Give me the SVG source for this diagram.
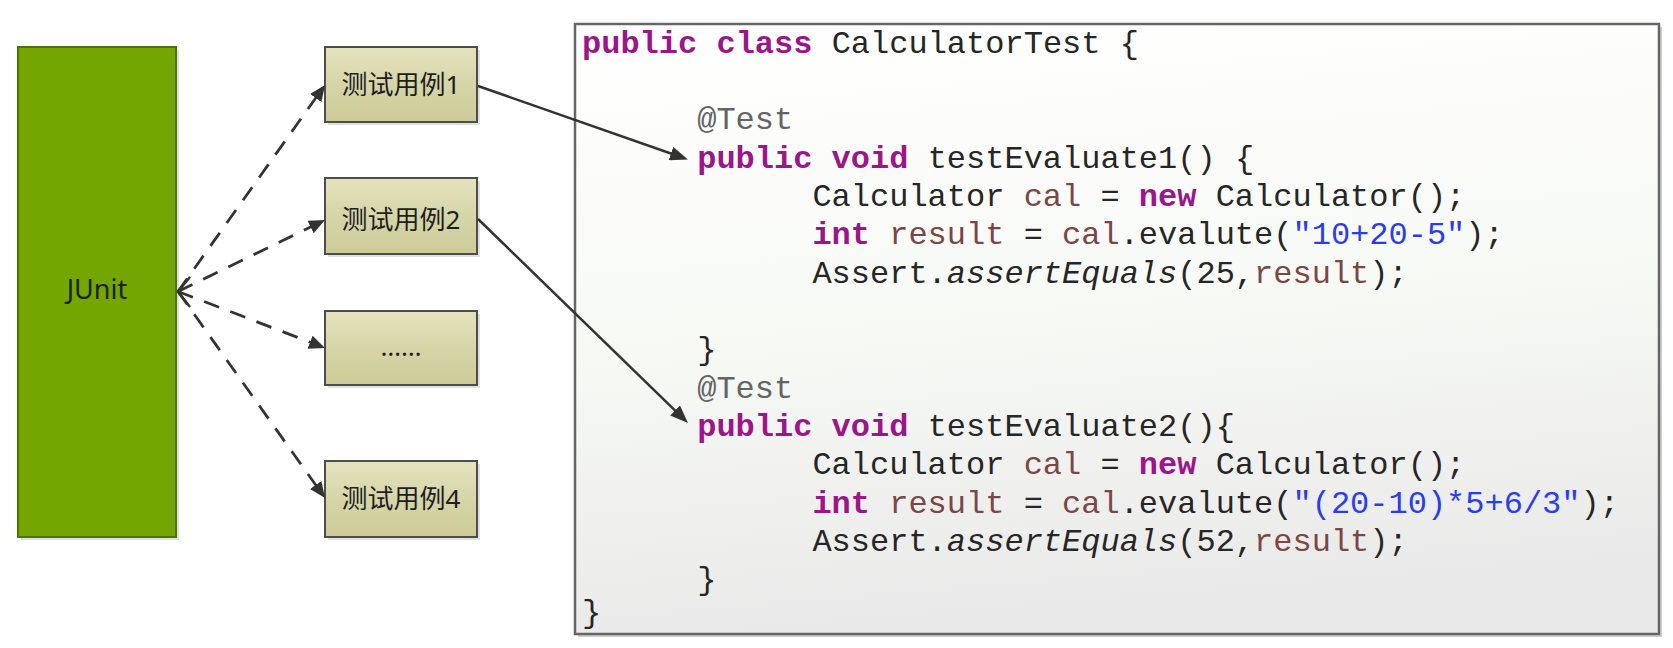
<svg xmlns="http://www.w3.org/2000/svg" width="1673" height="648" viewBox="0 0 1673 648">
<defs>
<linearGradient id="gBox" x1="0" y1="0" x2="0" y2="1">
<stop offset="0" stop-color="#e4e3be"/>
<stop offset="0.5" stop-color="#d6d5a8"/>
<stop offset="1" stop-color="#cccb98"/>
</linearGradient>
<linearGradient id="gCode" x1="0" y1="0" x2="0.15" y2="1">
<stop offset="0" stop-color="#ffffff"/>
<stop offset="0.55" stop-color="#f7f9f5"/>
<stop offset="1" stop-color="#e9e9e9"/>
</linearGradient>
<marker id="ah" viewBox="0 0 18 14" markerWidth="18" markerHeight="14" refX="12" refY="7" orient="auto" markerUnits="userSpaceOnUse">
<path d="M0,0 L18,7 L0,14 z" fill="#333333"/>
</marker>
<marker id="ahd" viewBox="0 0 16 14" markerWidth="16" markerHeight="14" refX="10" refY="7" orient="auto" markerUnits="userSpaceOnUse">
<path d="M0,0 L16,7 L0,14 z" fill="#333333"/>
</marker>
</defs>
<style>
.case{fill:url(#gBox);stroke:#4d4d4d;stroke-width:2}
.shadow{fill:#000;opacity:0.12}
.lbl{font-family:"Noto Sans","Noto Sans CJK SC",sans-serif;font-size:26px;fill:#1e1e1e;text-anchor:middle}
.dash{fill:none;stroke:#333333;stroke-width:2.75;stroke-dasharray:16 12}
.solid{fill:none;stroke:#333333;stroke-width:2.5}
.code{font-family:"Liberation Mono","Courier New",monospace;font-size:32px;fill:#262626}
.kw{font-weight:bold;fill:#9a168a}
.var{fill:#7a4646}
.str{fill:#2a3cf0}
.ann{fill:#646464}
.it{font-style:italic}
</style>
<rect width="1673" height="648" fill="#ffffff"/>

<g id="junit">
<rect class="shadow" x="21" y="50" width="158" height="490"/>
<rect x="18" y="47" width="158" height="490" fill="#73a600" stroke="#4f7300" stroke-width="2"/>
<text x="97" y="299" font-family="Noto Sans, sans-serif" font-size="27" fill="#1e1e1e" text-anchor="middle">JUnit</text>
</g>

<g id="case1">
<rect class="shadow" x="328" y="50" width="152" height="75"/>
<rect class="case" x="325" y="47" width="152" height="75"/>
<text class="lbl" x="401" y="94">测试用例1</text>
</g>
<g id="case2">
<rect class="shadow" x="328" y="181" width="152" height="76"/>
<rect class="case" x="325" y="178" width="152" height="76"/>
<text class="lbl" x="401" y="229">测试用例2</text>
</g>
<g id="case3">
<rect class="shadow" x="328" y="314" width="152" height="74"/>
<rect class="case" x="325" y="311" width="152" height="74"/>
<text class="lbl" x="401" y="356" font-size="22">……</text>
</g>
<g id="case4">
<rect class="shadow" x="328" y="464" width="152" height="76"/>
<rect class="case" x="325" y="461" width="152" height="76"/>
<text class="lbl" x="401" y="508">测试用例4</text>
</g>

<g id="code">
<rect x="578" y="27" width="1084" height="610" fill="#d0d0d0"/>
<rect x="575" y="24" width="1084" height="610" fill="url(#gCode)" stroke="#666666" stroke-width="2.5"/>
<g class="code" xml:space="preserve">
<text x="582" y="52.5"><tspan class="kw">public class</tspan> CalculatorTest {</text>
<text x="697.2" y="129.2" class="ann">@Test</text>
<text x="697.2" y="167.55"><tspan class="kw">public void</tspan> testEvaluate1() {</text>
<text x="812.4" y="205.9">Calculator <tspan class="var">cal</tspan> = <tspan class="kw">new</tspan> Calculator();</text>
<text x="812.4" y="244.25"><tspan class="kw">int</tspan> <tspan class="var">result</tspan> = <tspan class="var">cal</tspan>.evalute(<tspan class="str">"10+20-5"</tspan>);</text>
<text x="812.4" y="282.6">Assert.<tspan class="it">assertEquals</tspan>(25,<tspan class="var">result</tspan>);</text>
<text x="697.2" y="359.3">}</text>
<text x="697.2" y="397.65" class="ann">@Test</text>
<text x="697.2" y="436"><tspan class="kw">public void</tspan> testEvaluate2(){</text>
<text x="812.4" y="474.35">Calculator <tspan class="var">cal</tspan> = <tspan class="kw">new</tspan> Calculator();</text>
<text x="812.4" y="512.7"><tspan class="kw">int</tspan> <tspan class="var">result</tspan> = <tspan class="var">cal</tspan>.evalute(<tspan class="str">"(20-10)*5+6/3"</tspan>);</text>
<text x="812.4" y="551.05">Assert.<tspan class="it">assertEquals</tspan>(52,<tspan class="var">result</tspan>);</text>
<text x="697.2" y="589.4">}</text>
<text x="582" y="622">}</text>
</g>
</g>

<g id="connectors">
<line class="dash" x1="178" y1="291.5" x2="321.5" y2="89.9" marker-end="url(#ahd)"/>
<line class="dash" x1="178" y1="291.5" x2="319.6" y2="222.6" marker-end="url(#ahd)"/>
<line class="dash" x1="178" y1="291.5" x2="319.4" y2="345.8" marker-end="url(#ahd)"/>
<line class="dash" x1="178" y1="291.5" x2="321.5" y2="493.1" marker-end="url(#ahd)"/>
<polyline points="190,277 178,291.5 190,307" fill="none" stroke="#333333" stroke-width="2.5"/>
<line class="solid" x1="478" y1="86" x2="682.3" y2="157.5" marker-end="url(#ah)"/>
<line class="solid" x1="478" y1="219" x2="683.7" y2="418.8" marker-end="url(#ah)"/>
</g>
</svg>
